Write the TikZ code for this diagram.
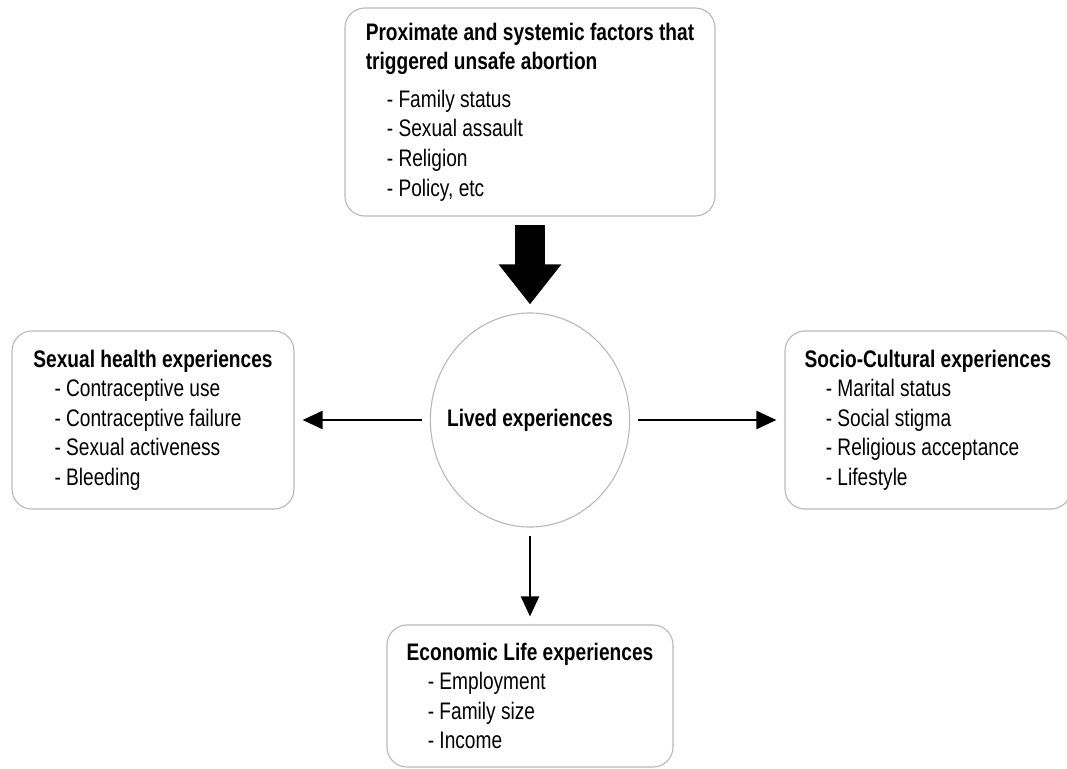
\documentclass[tikz,border=0pt]{standalone}
\usepackage{fontspec}
\setmainfont[FakeStretch=0.8]{Liberation Sans}
\usepackage{tikz}
\usetikzlibrary{arrows.meta, shapes.geometric}

\newcommand{\itm}[1]{\hspace*{15pt}- #1}

\begin{document}
\begin{tikzpicture}[x=0.025cm, y=-0.025cm, >={Triangle[length=0.5cm, width=0.45cm]}]
	\tikzstyle{factor}=[draw=gray!55, line width=0.8pt, rounded corners=0.5cm, align=left, font=\fontsize{17}{21}\selectfont]
	\tikzstyle{link}=[->, line width=1.7pt, shorten <=0.2cm, shorten >=0.2cm]
	\useasboundingbox (0,0) rectangle (1067,769);
	
	\node[factor, minimum width=9.25cm, minimum height=5.2cm] (prox) at (530,112)
		{\textbf{Proximate and systemic factors that}\\ \textbf{triggered unsafe abortion}\\[0.2cm] \itm{Family status}\\ \itm{Sexual assault}\\ \itm{Religion}\\ \itm{Policy, etc}};
	\node[ellipse, draw=gray!55, line width=0.8pt, inner sep=0pt, minimum width=4.98cm, minimum height=5.35cm, font=\fontsize{17}{21}\selectfont\bfseries] (lived) at (530,420) {\makebox[0pt]{Lived experiences}};
	\node[factor, minimum width=7.05cm, minimum height=4.45cm] (sexual) at (153,420)
		{\textbf{Sexual health experiences}\\ \itm{Contraceptive use}\\ \itm{Contraceptive failure}\\ \itm{Sexual activeness}\\ \itm{Bleeding}};
	\node[factor, minimum width=7.15cm, minimum height=4.45cm] (socio) at (928,420)
		{\textbf{Socio-Cultural experiences}\\ \itm{Marital status}\\ \itm{Social stigma}\\ \itm{Religious acceptance}\\ \itm{Lifestyle}};
	\node[factor, minimum width=7.15cm, minimum height=3.55cm] (econ) at (530,696)
		{\textbf{Economic Life experiences}\\ \itm{Employment}\\ \itm{Family size}\\ \itm{Income}};
	
	\draw[line width=0.75cm, -{Triangle[length=1cm, width=1.5cm]}, shorten <=0.22cm, shorten >=0.2cm] (prox.south) -- (lived.north);
	\draw[link] (lived.west) -- (sexual.east);
	\draw[link] (lived.east) -- (socio.west);
	\draw[link] (lived.south) -- (econ.north);
\end{tikzpicture}
\end{document}
